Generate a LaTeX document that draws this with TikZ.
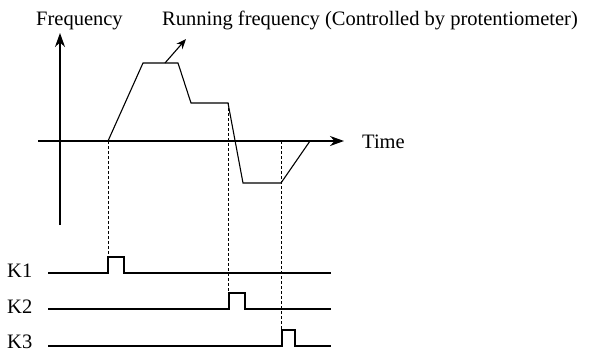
\documentclass[tikz,border=0pt]{standalone}
\usepackage{fontspec}
\setmainfont{Liberation Serif}
\usetikzlibrary{arrows.meta}
\begin{document}
\begin{tikzpicture}[x=1pt,y=-1pt,
  lbl/.style={inner sep=0pt,anchor=base west,font=\fontsize{20.5}{24}\selectfont},
  axis/.style={line width=1.8pt,-{Stealth[length=14pt,width=10pt]}},
  curve/.style={line width=1.1pt},
  guide/.style={line width=0.9pt,dashed,dash pattern=on 3pt off 2pt},
  sig/.style={line width=1.1pt}]
\useasboundingbox (0,0) rectangle (595,351);
% labels
\node[lbl] (freq) at (36,25) {Frequency};
\node[lbl] (run) at (162,25) {Running frequency (Controlled by protentiometer)};
\node[lbl] (time) at (362,148) {Time};
\node[lbl] (k1) at (7,277) {K1};
\node[lbl] (k2) at (7,313) {K2};
\node[lbl] (k3) at (7,348) {K3};
% axes
\coordinate (vb) at (60,225);
\coordinate (vt) at (60,33);
\coordinate (hl) at (38,141);
\coordinate (hr) at (344,141);
\draw[axis] (vb) -- (vt);
\draw[axis] (hl) -- (hr);
% frequency curve
\coordinate (c0) at (108,141);
\coordinate (c1) at (143,63);
\coordinate (c2) at (178,63);
\coordinate (c3) at (191,103);
\coordinate (c4) at (228,103);
\coordinate (c5) at (243,183);
\coordinate (c6) at (281,183);
\coordinate (c7) at (310,141);
\draw[curve] (c0) -- (c1) -- (c2) -- (c3) -- (c4) -- (c5) -- (c6) -- (c7);
% running frequency arrow
\coordinate (a0) at (165,63);
\coordinate (a1) at (186,39);
\draw[line width=1.1pt,-{Stealth[length=10pt,width=8pt]}] (a0) -- (a1);
% K signals
\coordinate (k1s) at (48,273);
\coordinate (k1a) at (108,273);
\coordinate (k1b) at (108,257);
\coordinate (k1c) at (124,257);
\coordinate (k1d) at (124,273);
\coordinate (k1e) at (331,273);
\draw[sig] (k1s) -- (k1a) -- (k1b) -- (k1c) -- (k1d) -- (k1e);
\coordinate (k2s) at (48,309);
\coordinate (k2a) at (229,309);
\coordinate (k2b) at (229,293);
\coordinate (k2c) at (245,293);
\coordinate (k2d) at (245,309);
\coordinate (k2e) at (331,309);
\draw[sig] (k2s) -- (k2a) -- (k2b) -- (k2c) -- (k2d) -- (k2e);
\coordinate (k3s) at (48,346);
\coordinate (k3a) at (282,346);
\coordinate (k3b) at (282,330);
\coordinate (k3c) at (295,330);
\coordinate (k3d) at (295,346);
\coordinate (k3e) at (331,346);
\draw[sig] (k3s) -- (k3a) -- (k3b) -- (k3c) -- (k3d) -- (k3e);
% dashed guides
\coordinate (g2) at (228,293);
\coordinate (g3t) at (281,141);
\coordinate (g3) at (281,330);
\draw[guide] (c0) -- (k1b);
\draw[guide] (c4) -- (g2);
\draw[guide] (g3t) -- (g3);
\end{tikzpicture}
\end{document}
